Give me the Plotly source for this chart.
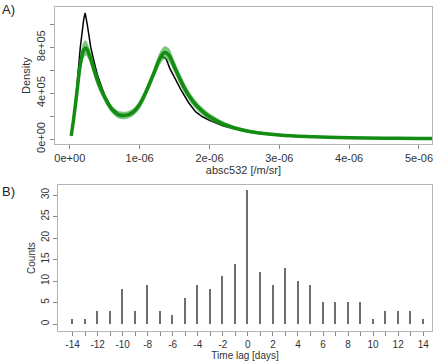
import plotly.graph_objects as go

# ---------------- Panel A data (x in 1e-6 /m/sr, density in 1e5) ----------------
obs_x = [0.02, 0.05, 0.10, 0.15, 0.20, 0.22, 0.25, 0.30, 0.35, 0.40, 0.50, 0.60,
         0.70, 0.80, 0.90, 1.00, 1.10, 1.20, 1.28, 1.33, 1.38, 1.43, 1.50, 1.60,
         1.70, 1.80, 1.90, 2.00, 2.20, 2.50, 3.00, 3.50, 4.00, 4.50, 5.00, 5.20]
obs_y = [0.3, 1.5, 4.5, 8.0, 10.5, 11.0, 10.0, 8.0, 6.7, 5.5, 3.8, 2.7,
         2.2, 2.1, 2.3, 3.0, 4.2, 5.8, 6.9, 7.2, 7.0, 6.2, 5.4, 4.2,
         3.2, 2.4, 1.95, 1.65, 1.15, 0.7, 0.35, 0.2, 0.12, 0.08, 0.06, 0.05]

sim_x = [0.02, 0.05, 0.10, 0.15, 0.20, 0.23, 0.27, 0.30, 0.35, 0.40, 0.50, 0.60,
         0.70, 0.80, 0.90, 1.00, 1.10, 1.20, 1.30, 1.36, 1.42, 1.50, 1.60, 1.70,
         1.80, 1.90, 2.00, 2.20, 2.50, 3.00, 3.50, 4.00, 4.50, 5.00, 5.20]
sim_lo = [0.1, 1.1, 3.4, 5.7, 7.1, 7.3, 6.9, 6.4, 5.4, 4.5, 3.25, 2.3,
          1.8, 1.75, 2.0, 2.65, 3.85, 5.25, 6.6, 7.0, 6.7, 5.75, 4.45, 3.45,
          2.65, 2.1, 1.65, 1.08, 0.6, 0.26, 0.14, 0.08, 0.05, 0.035, 0.03]
sim_hi = [0.5, 2.0, 4.6, 7.3, 8.5, 8.6, 8.1, 7.6, 6.6, 5.6, 4.05, 2.95,
          2.45, 2.4, 2.65, 3.4, 4.65, 6.15, 7.7, 8.1, 7.9, 6.8, 5.45, 4.25,
          3.4, 2.75, 2.25, 1.55, 0.92, 0.45, 0.27, 0.17, 0.11, 0.085, 0.075]
sim_mid = [(a + b) / 2 for a, b in zip(sim_lo, sim_hi)]

a_xticks = [0, 1, 2, 3, 4, 5]
a_xlabels = ["0e+00", "1e-06", "2e-06", "3e-06", "4e-06", "5e-06"]
a_yticks = [0, 2, 4, 6, 8, 10]
a_ylabels = ["0e+00", "", "4e+05", "", "8e+05", ""]

# ---------------- Panel B data ----------------
lags = list(range(-14, 15))
counts = [1, 1, 3, 3, 8, 3, 9, 3, 2, 6, 9, 8, 11, 14, 31,
          12, 9, 13, 10, 9, 5, 5, 5, 5, 1, 3, 3, 3, 1]
b_xticks = list(range(-14, 15))
b_xlabels = [str(v) if v % 2 == 0 else "" for v in b_xticks]
b_yticks = [0, 5, 10, 15, 20, 25, 30]

FONT = "Liberation Sans, Arial, sans-serif"
TXT = "#333333"
FRAME = "#b5b5b5"

fig = go.Figure()

# observed (black) line
fig.add_trace(go.Scatter(x=obs_x, y=obs_y, mode="lines",
                         line=dict(color="black", width=1.5),
                         xaxis="x", yaxis="y", showlegend=False))
# simulated band (green)
fig.add_trace(go.Scatter(x=sim_x, y=sim_lo, mode="lines", line=dict(width=0, shape="spline"),
                         xaxis="x", yaxis="y", showlegend=False, hoverinfo="skip"))
fig.add_trace(go.Scatter(x=sim_x, y=sim_hi, mode="lines", line=dict(width=0, shape="spline"),
                         fill="tonexty", fillcolor="rgba(40,160,40,0.6)",
                         xaxis="x", yaxis="y", showlegend=False, hoverinfo="skip"))
fig.add_trace(go.Scatter(x=sim_x, y=sim_mid, mode="lines",
                         line=dict(color="#138c13", width=3.5, shape="spline"),
                         xaxis="x", yaxis="y", showlegend=False))

# panel B bars
fig.add_trace(go.Bar(x=lags, y=counts, width=0.12, marker=dict(color="#6e6e6e", line=dict(width=0)),
                     xaxis="x2", yaxis="y2", showlegend=False))

axis_common = dict(showline=True, mirror=True, linecolor=FRAME, linewidth=1,
                   ticks="outside", ticklen=4, tickcolor="#888888",
                   showgrid=False, zeroline=False,
                   tickfont=dict(family=FONT, size=11, color=TXT))

fig.update_layout(
    width=440, height=363,
    margin=dict(l=0, r=0, t=0, b=0),
    paper_bgcolor="white", plot_bgcolor="white",
    bargap=0,
    xaxis=dict(domain=[0.125, 0.984], anchor="y", range=[-0.214, 5.186],
               tickvals=a_xticks, ticktext=a_xlabels,
               title=dict(text="absc532 [/m/sr]", standoff=3,
                          font=dict(family=FONT, size=11, color=TXT)),
               **axis_common),
    yaxis=dict(domain=[0.593, 0.980], anchor="x", range=[-0.43, 11.52],
               tickvals=a_yticks, ticktext=a_ylabels, tickangle=-90,
               title=dict(text="Density", standoff=2,
                          font=dict(family=FONT, size=11, color=TXT)),
               **axis_common),
    xaxis2=dict(domain=[0.1325, 0.984], anchor="y2", range=[-15.15, 14.7],
                tickvals=b_xticks, ticktext=b_xlabels,
                title=dict(text="Time lag [days]", standoff=2,
                           font=dict(family=FONT, size=10, color=TXT)),
                **axis_common),
    yaxis2=dict(domain=[0.0653, 0.4766], anchor="x2", range=[-1.59, 32.27],
                tickvals=b_yticks, tickangle=-90,
                title=dict(text="Counts", standoff=2,
                           font=dict(family=FONT, size=10, color=TXT)),
                **axis_common),
    annotations=[
        dict(text="A)", x=0.0, y=1.0, xref="paper", yref="paper", xanchor="left", yanchor="top",
             showarrow=False, font=dict(family=FONT, size=13, color="#222222")),
        dict(text="B)", x=0.0, y=0.487, xref="paper", yref="paper", xanchor="left", yanchor="top",
             showarrow=False, font=dict(family=FONT, size=13, color="#222222")),
    ],
)
fig.update_xaxes(tickfont=dict(size=10), selector=dict(anchor="y2"))
fig.update_yaxes(tickfont=dict(size=10), selector=dict(anchor="x2"))

fig.write_html("out.html", config={"displayModeBar": False},
               post_script="document.body.style.margin='0';document.body.style.padding='0';")
